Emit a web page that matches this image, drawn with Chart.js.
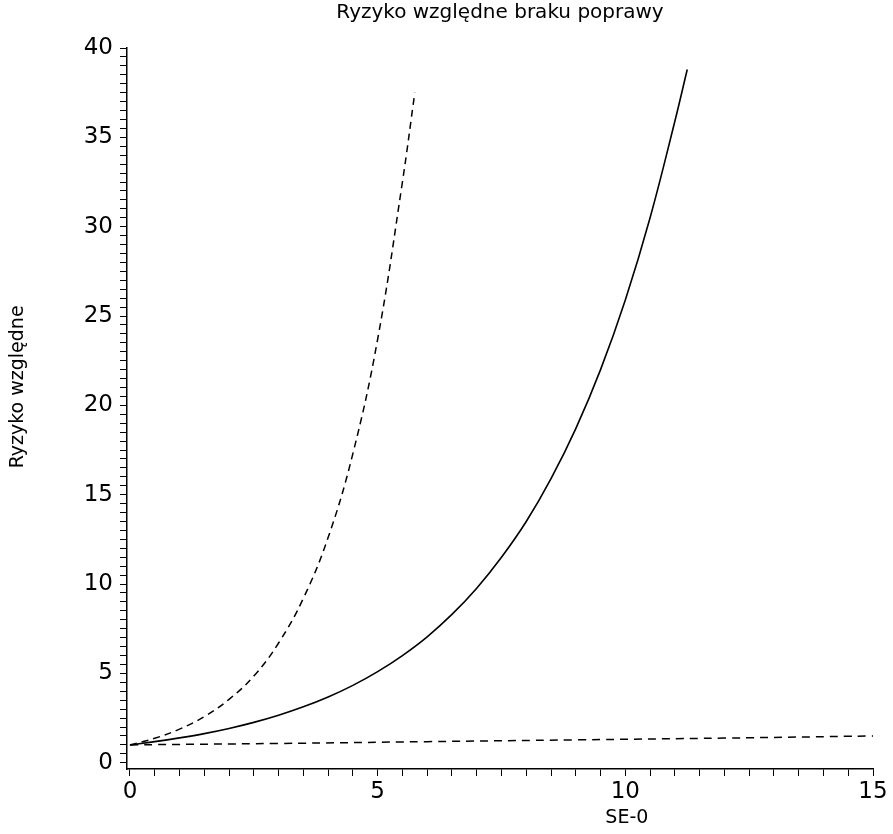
<!DOCTYPE html>
<html>
<head>
<meta charset="utf-8">
<script src="https://cdn.jsdelivr.net/npm/chart.js@4/dist/chart.umd.min.js"></script>
<style>
  html, body { margin: 0; padding: 0; background: #fff; }
  #wrap { width: 893px; height: 834px; }
</style>
</head>
<body>
<div id="wrap"><canvas id="rr"></canvas></div>
<script>
// values
const seSolid = [0, 0.5, 1, 1.5, 2, 2.5, 3, 3.5, 4, 4.5, 5, 5.5, 6, 6.5, 7, 7.5, 8, 8.5, 9, 9.5, 10, 10.5, 11, 11.25];
const rrSolid = [1, 1.18, 1.39, 1.63, 1.92, 2.26, 2.66, 3.13, 3.68, 4.33, 5.1, 6.0, 7.05, 8.3, 9.77, 11.5, 13.5, 15.9, 18.7, 22, 25.9, 30.5, 35.9, 38.8];

const seSteep = [0, 0.5, 1, 1.5, 2, 2.5, 3, 3.5, 4, 4.5, 5, 5.5, 5.75];
const rrSteep = [1, 1.37, 1.88, 2.58, 3.55, 4.85, 6.7, 9.2, 12.6, 17.3, 23.7, 32.5, 37.5];

const seFlat = [0, 3, 6, 9, 12, 15];
const rrFlat = [1, 1.08, 1.18, 1.28, 1.38, 1.5];

const xTicksMajor = [0, 5, 10, 15];
const yTicksMajor = [0, 5, 10, 15, 20, 25, 30, 35, 40];

const xTitle = 'SE-0';
const yTitle = 'Ryzyko względne';

function pts(xs, ys) {
    return xs.map((x, i) => ({x: x, y: ys[i]}));
}

const FONT = 'DejaVu Sans';

// axis titles sit off-centre in the original, draw them ourselves
const axisTitles = {
    id: 'axisTitles',
    afterDraw(chart) {
        const ctx = chart.ctx;
        const a = chart.chartArea;
        ctx.save();
        ctx.fillStyle = '#000';
        ctx.font = '19px "' + FONT + '"';
        ctx.textAlign = 'center';
        ctx.textBaseline = 'middle';
        ctx.fillText(xTitle, a.left + 0.67 * (a.right - a.left), chart.height - 16);
        ctx.translate(18, a.top + 0.47 * (a.bottom - a.top));
        ctx.rotate(-Math.PI / 2);
        ctx.fillText(yTitle, 0, 0);
        ctx.restore();
    }
};

new Chart(document.getElementById('rr'), {
    type: 'scatter',
    data: {
        datasets: [
            {
                label: 'solid',
                data: pts(seSolid, rrSolid),
                showLine: true,
                borderColor: '#000',
                borderWidth: 1.6,
                pointRadius: 0,
                tension: 0.4
            },
            {
                label: 'steep',
                data: pts(seSteep, rrSteep),
                showLine: true,
                borderColor: '#000',
                borderWidth: 1.5,
                borderDash: [7, 5],
                pointRadius: 0,
                tension: 0.4
            },
            {
                label: 'flat',
                data: pts(seFlat, rrFlat),
                showLine: true,
                borderColor: '#000',
                borderWidth: 1.5,
                borderDash: [8, 6],
                pointRadius: 0,
                tension: 0.4
            }
        ]
    },
    options: {
        responsive: true,
        maintainAspectRatio: false,
        animation: false,
        layout: { padding: { left: 0, right: 20, top: 0, bottom: 0 } },
        plugins: {
            legend: { display: false },
            tooltip: { enabled: false },
            title: {
                display: true,
                fullSize: false,
                text: 'Ryzyko względne braku poprawy',
                color: '#000',
                font: { family: FONT, size: 20, weight: 'normal' },
                padding: { top: 1, bottom: 23 }
            }
        },
        scales: {
            x: {
                type: 'linear',
                min: -0.06,
                max: 15,
                afterFit: s => { s.height = 65; },
                border: { display: true, color: '#000', width: 1.5 },
                grid: { drawOnChartArea: false, color: '#000', tickLength: 7, tickWidth: 1 },
                ticks: {
                    stepSize: 0.5,
                    includeBounds: false,
                    autoSkip: false,
                    maxRotation: 0,
                    padding: 2,
                    color: '#000',
                    font: { family: FONT, size: 23 },
                    callback: v => xTicksMajor.includes(v) ? String(v) : ''
                }
            },
            y: {
                type: 'linear',
                min: -0.35,
                max: 40,
                afterFit: s => { s.width = 127; },
                border: { display: true, color: '#000', width: 1.5 },
                grid: { drawOnChartArea: false, color: '#000', tickLength: 7, tickWidth: 1 },
                ticks: {
                    stepSize: 0.5,
                    includeBounds: false,
                    autoSkip: false,
                    padding: 7,
                    color: '#000',
                    font: { family: FONT, size: 23 },
                    callback: v => yTicksMajor.includes(v) ? String(v) : ''
                }
            }
        }
    },
    plugins: [axisTitles]
});
</script>
</body>
</html>
